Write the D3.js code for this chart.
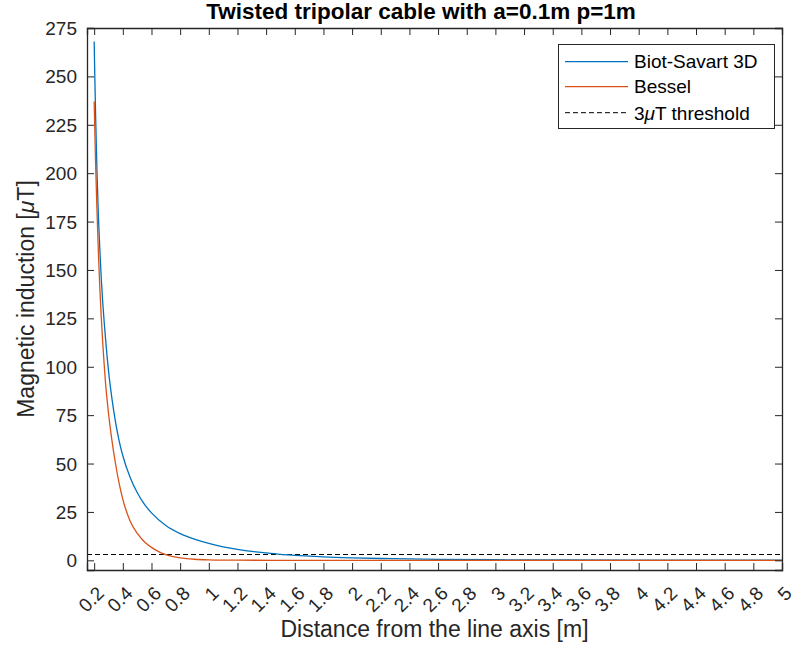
<!DOCTYPE html>
<html><head><meta charset="utf-8">
<script src="https://cdn.jsdelivr.net/npm/d3@7"></script>
<style>body{margin:0;background:#fff} text{font-family:"Liberation Sans",Arial,Helvetica,sans-serif;fill:#262626}</style>
</head><body>
<svg id="chart" width="795" height="654"></svg>
<script>
// ---- data ----
const biotX = [0.2, 0.205, 0.21, 0.22, 0.23, 0.24, 0.25, 0.26, 0.27, 0.28, 0.3, 0.325, 0.35, 0.375, 0.4, 0.45, 0.5, 0.55, 0.6, 0.7, 0.8, 0.9, 1.0, 1.1, 1.2, 1.3, 1.4, 1.5, 1.6, 1.8, 2.0, 2.2, 2.4, 2.6, 3.0, 3.5, 4.0, 4.5, 5.0];
const biotY = [268, 248, 230, 200, 177, 160, 145, 133, 123, 114, 98, 83, 71, 61.5, 54, 43, 35, 29, 24.5, 18, 13.8, 10.9, 8.7, 7.0, 5.7, 4.6, 3.8, 3.1, 2.6, 1.8, 1.3, 0.95, 0.7, 0.5, 0.3, 0.17, 0.1, 0.06, 0.04];
const besselX = [0.2, 0.21, 0.22, 0.23, 0.24, 0.25, 0.26, 0.27, 0.28, 0.29, 0.3, 0.32, 0.35, 0.375, 0.4, 0.45, 0.5, 0.55, 0.6, 0.65, 0.7, 0.75, 0.8, 0.9, 1.0, 1.2, 1.5, 2.0, 3.0, 4.0, 5.0];
const besselY = [237, 205, 180, 158, 140, 125, 112, 101, 91, 83, 76, 64, 49.5, 39.5, 31.5, 20.5, 14, 9.6, 6.7, 4.5, 2.9, 1.9, 1.25, 0.55, 0.25, 0.06, 0.01, 0, 0, 0, 0];
const thresholdValue = 3;
const xTicks = [0.2, 0.4, 0.6, 0.8, 1, 1.2, 1.4, 1.6, 1.8, 2, 2.2, 2.4, 2.6, 2.8, 3, 3.2, 3.4, 3.6, 3.8, 4, 4.2, 4.4, 4.6, 4.8, 5];
const xTickLabels = ["0.2","0.4","0.6","0.8","1","1.2","1.4","1.6","1.8","2","2.2","2.4","2.6","2.8","3","3.2","3.4","3.6","3.8","4","4.2","4.4","4.6","4.8","5"];
const yTicks = [0, 25, 50, 75, 100, 125, 150, 175, 200, 225, 250, 275];
const xDomain = [0.15, 5];
const yDomain = [-5, 275];
const seriesNames = ["Biot-Savart 3D", "Bessel"];
const seriesColors = ["#0072BD", "#D95319"];

// ---- layout ----
const svg = d3.select("#chart");
const L = 87, R = 782, T = 28, B = 570;
const x = d3.scaleLinear().domain(xDomain).range([L, R]);
const y = d3.scaleLinear().domain(yDomain).range([B, T]);
const axisColor = "#262626";
const tickLen = 7;

svg.append("rect").attr("x", 0).attr("y", 0).attr("width", 795).attr("height", 654).attr("fill", "#fff");

svg.append("clipPath").attr("id", "clip").append("rect")
  .attr("x", L).attr("y", T).attr("width", R - L).attr("height", B - T);
const plot = svg.append("g").attr("clip-path", "url(#clip)");

plot.append("line")
  .attr("x1", x(xDomain[0])).attr("x2", x(xDomain[1]))
  .attr("y1", y(thresholdValue)).attr("y2", y(thresholdValue))
  .attr("stroke", "#000").attr("stroke-width", 1).attr("stroke-dasharray", "5,3");

const line = d3.line().x(d => x(d[0])).y(d => y(d[1])).curve(d3.curveMonotoneX);
const series = [d3.zip(biotX, biotY), d3.zip(besselX, besselY)];
series.forEach((s, i) => {
  plot.append("path").datum(s).attr("d", line)
    .attr("fill", "none").attr("stroke", seriesColors[i]).attr("stroke-width", 1.3);
});

// axes
const gx = svg.append("g").attr("transform", `translate(0,${B})`)
  .call(d3.axisBottom(x).tickValues(xTicks).tickSize(-tickLen).tickFormat((d, i) => xTickLabels[i]));
const gxTop = svg.append("g").attr("transform", `translate(0,${T})`)
  .call(d3.axisTop(x).tickValues(xTicks).tickSize(-tickLen).tickFormat(""));
const gy = svg.append("g").attr("transform", `translate(${L},0)`)
  .call(d3.axisLeft(y).tickValues(yTicks).tickSize(-tickLen));
const gyR = svg.append("g").attr("transform", `translate(${R},0)`)
  .call(d3.axisRight(y).tickValues(yTicks).tickSize(-tickLen).tickFormat(""));

[gx, gxTop, gy, gyR].forEach(g => {
  g.select(".domain").attr("stroke", axisColor).attr("stroke-width", 1.3);
  g.selectAll(".tick line").attr("stroke", axisColor).attr("stroke-width", 1);
});
gx.selectAll(".tick text")
  .attr("font-size", 19).attr("fill", axisColor)
  .attr("text-anchor", "end").attr("dy", null).attr("y", null)
  .attr("dominant-baseline", "central")
  .attr("transform", "translate(6,20) rotate(-45)");
gy.selectAll(".tick text")
  .attr("font-size", 19).attr("fill", axisColor).attr("x", -10).attr("dy", null)
  .attr("dominant-baseline", "central");

// title and labels
svg.append("text").attr("x", 421).attr("y", 19).attr("text-anchor", "middle")
  .attr("font-size", 22.5).attr("font-weight", "bold")
  .style("fill", "#000").text("Twisted tripolar cable with a=0.1m p=1m");
svg.append("text").attr("x", (L + R) / 2).attr("y", 637).attr("text-anchor", "middle")
  .attr("font-size", 23).text("Distance from the line axis [m]");
const yl = svg.append("text").attr("transform", `translate(34,${(T + B) / 2}) rotate(-90)`)
  .attr("text-anchor", "middle").attr("font-size", 23);
yl.append("tspan").text("Magnetic induction [");
yl.append("tspan").attr("font-style", "italic").text("μ");
yl.append("tspan").text("T]");

// legend
const lg = svg.append("g");
lg.append("rect").attr("x", 558.5).attr("y", 44.5).attr("width", 216).attr("height", 84)
  .attr("fill", "#fff").attr("stroke", axisColor).attr("stroke-width", 1);
const rows = [61.7, 86.7, 112.7];
seriesNames.forEach((n, i) => {
  lg.append("line").attr("x1", 565).attr("x2", 628).attr("y1", rows[i]).attr("y2", rows[i])
    .attr("stroke", seriesColors[i]).attr("stroke-width", 1.3);
  lg.append("text").attr("x", 634).attr("y", rows[i]).attr("dominant-baseline", "central")
    .attr("font-size", 19).style("fill", "#000").text(n);
});
lg.append("line").attr("x1", 565).attr("x2", 628).attr("y1", rows[2]).attr("y2", rows[2])
  .attr("stroke", "#000").attr("stroke-width", 1).attr("stroke-dasharray", "5,3");
const t3 = lg.append("text").attr("x", 634).attr("y", rows[2]).attr("dominant-baseline", "central")
  .attr("font-size", 19).style("fill", "#000");
t3.append("tspan").text("3");
t3.append("tspan").attr("font-style", "italic").text("μ");
t3.append("tspan").text("T threshold");
</script>
</body></html>
